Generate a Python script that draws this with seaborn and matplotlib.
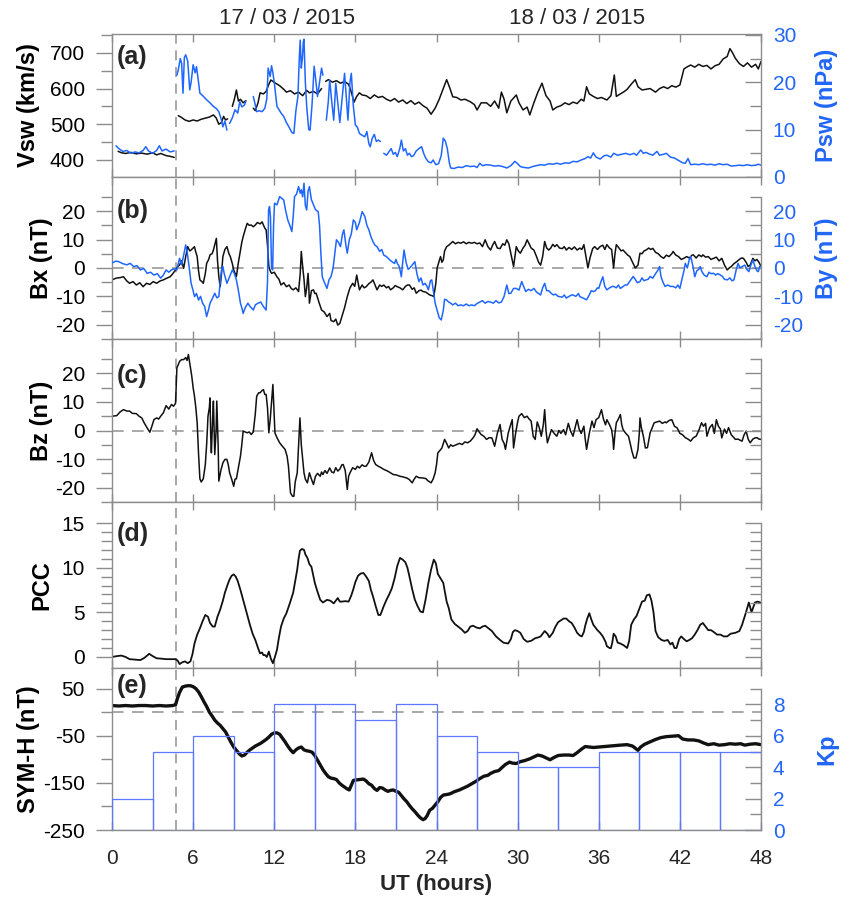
import matplotlib
matplotlib.use("Agg")
import matplotlib.pyplot as plt
import pandas as pd
import seaborn as sns
from matplotlib.ticker import FixedLocator

# ---------------- data (UT hours, value); None marks a data gap ----------------
VSW = [(0.45,424),(0.7,420),(1.0,418),(1.4,421),(1.8,417),(2.2,419),(2.6,416),(3.0,420),(3.3,414),(3.6,418),(4.0,412),(4.3,410),(4.6,407),(4.7,None),
       (4.9,524),(5.1,520),(5.4,512),(5.7,508),(6.0,512),(6.3,509),(6.6,514),(6.9,517),(7.2,520),(7.5,526),(7.7,518),(7.9,500),(8.1,505),(8.25,522),(8.4,512),(8.55,515),(8.7,None),
       (8.9,550),(9.05,570),(9.2,596),(9.35,565),(9.5,570),(9.7,560),(9.9,566),(10.1,None),
       (10.45,545),(10.6,538),(10.8,560),(10.95,588),(11.2,585),(11.4,592),(11.6,612),(11.75,624),(11.9,620),(12.1,615),(12.4,608),(12.7,598),(12.9,590),(13.2,594),(13.5,585),(13.8,590),(14.1,580),(14.4,595),(14.6,588),(14.9,592),(15.2,585),(15.5,600),(15.65,None),
       (15.8,620),(16.0,625),(16.3,618),(16.6,622),(16.9,615),(17.2,620),(17.5,612),(17.7,590),(17.9,562),(18.1,578),(18.3,588),(18.5,582),
       (18.8,580),(19.1,572),(19.4,582),(19.7,575),(20.0,578),(20.3,570),(20.6,565),(20.9,572),(21.2,562),(21.5,568),(21.8,558),(22.1,566),(22.4,556),(22.7,562),(23.0,552),(23.3,545),(23.6,528),(23.9,545),
       (24.2,570),(24.5,600),(24.75,625),(25.0,600),(25.2,577),(25.5,575),(25.8,568),(26.1,570),(26.5,563),(26.8,555),(27.0,540),(27.3,560),(27.7,560),(28.0,550),(28.3,565),(28.6,545),(28.8,590),(29.0,570),(29.2,532),(29.5,565),(29.9,582),
       (30.1,560),(30.4,540),(30.7,548),(30.9,526),(31.2,560),(31.5,590),(31.8,615),(32.1,580),(32.4,565),(32.6,540),(32.9,548),(33.2,552),(33.5,560),(33.8,555),(34.1,562),(34.4,558),(34.7,570),(34.9,565),(35.1,605),(35.3,585),(35.6,578),(35.9,572),
       (36.2,575),(36.6,568),(36.9,580),(37.15,638),(37.3,578),(37.6,585),(37.9,592),(38.1,598),(38.4,612),(38.7,625),(38.9,605),(39.2,596),(39.5,598),(39.8,600),(40.2,590),(40.5,600),(40.8,605),(41.1,600),(41.4,608),(41.7,604),(42.0,610),
       (42.3,655),(42.5,660),(42.8,666),(43.1,660),(43.4,668),(43.7,662),(44.0,665),(44.3,655),(44.6,664),(44.9,668),(45.2,683),(45.5,690),(45.7,712),(45.9,700),(46.1,685),(46.4,670),(46.7,662),(47.0,672),(47.3,660),(47.6,668),(47.8,655),(48.0,676)]

PSW = [(0.3,6.6),(0.5,6.0),(0.8,5.4),(1.1,5.6),(1.4,5.0),(1.7,5.3),(2.0,5.1),(2.3,5.6),(2.5,6.4),(2.7,5.5),(3.0,5.0),(3.3,5.6),(3.5,6.6),(3.7,5.5),(4.0,5.9),(4.3,5.3),(4.6,5.5),(4.7,None),
       (4.8,21.5),(4.9,22.6),(5.05,25.0),(5.15,24.0),(5.25,17.7),(5.35,25.2),(5.45,25.8),(5.6,24.5),(5.75,18.4),(5.85,20.0),(6.0,23.7),(6.15,22.0),(6.25,23.3),(6.4,20.0),(6.5,17.7),(6.7,17.2),(7.0,16.3),(7.2,15.8),(7.5,14.9),(7.7,14.5),(7.9,13.8),(8.1,12.0),(8.2,10.6),(8.35,11.8),(8.5,9.9),(8.6,None),
       (8.7,11.3),(8.9,12.5),(9.1,14.2),(9.3,13.5),(9.45,15.9),(9.6,14.8),(9.8,15.2),(9.9,16.0),(10.1,None),
       (10.45,17.0),(10.55,15.8),(10.7,13.8),(10.9,14.0),(11.1,13.8),(11.3,14.5),(11.45,16.5),(11.55,23.0),(11.7,21.2),(11.8,23.5),(11.9,22.0),(12.0,20.0),(12.2,14.9),(12.4,14.0),(12.5,13.5),(12.7,12.8),(12.9,11.5),(13.1,10.5),(13.3,9.4),(13.45,9.2),
       (13.6,14.0),(13.75,17.0),(13.85,25.0),(13.92,28.9),(14.0,23.0),(14.08,25.0),(14.15,28.5),(14.2,29.1),(14.3,20.0),(14.4,14.9),(14.55,10.0),(14.65,9.9),(14.8,15.5),(14.95,23.4),(15.05,21.0),(15.2,17.0),(15.35,20.0),(15.5,23.0),(15.6,21.5),(15.7,None),
       (15.85,12.0),(16.0,16.0),(16.1,20.5),(16.25,16.0),(16.4,12.0),(16.55,19.8),(16.65,17.0),(16.85,11.5),(17.0,16.0),(17.2,21.9),(17.35,16.0),(17.45,12.0),(17.6,20.0),(17.7,21.9),(17.85,15.0),(18.0,11.0),(18.15,10.5),(18.3,9.2),(18.5,8.8),(18.7,8.5),
       (18.85,9.6),(19.0,7.0),(19.1,6.4),(19.25,8.2),(19.4,9.0),(19.55,7.5),(19.7,7.8),(19.85,7.5),(19.95,None),
       (20.1,5.0),(20.3,4.6),(20.5,5.4),(20.65,6.0),(20.8,4.8),(20.95,5.2),(21.1,4.3),(21.3,6.2),(21.4,7.8),(21.55,5.5),(21.7,6.0),(21.85,4.6),(22.0,5.0),(22.15,4.3),(22.3,4.5),(22.5,5.5),(22.7,6.0),(22.9,6.4),(23.05,5.0),(23.2,4.0),(23.4,3.2),(23.6,3.0),(23.75,3.6),(23.95,2.6),
       (24.15,2.8),(24.35,4.5),(24.5,8.2),(24.65,7.6),(24.8,6.0),(24.95,3.0),(25.05,1.9),(25.3,1.8),(25.6,2.1),(25.9,2.0),(26.2,2.4),(26.5,2.2),(26.8,2.3),(27.0,2.0),(27.2,2.9),(27.4,2.4),(27.7,2.6),(28.0,2.5),(28.3,2.3),(28.6,2.4),(28.9,2.2),(29.2,1.9),(29.5,2.4),(29.8,3.3),
       (30.0,2.8),(30.2,2.2),(30.5,2.0),(30.8,1.9),(31.1,2.2),(31.4,2.4),(31.7,2.6),(32.0,2.5),(32.3,2.8),(32.6,2.7),(32.9,2.9),(33.2,2.7),(33.5,3.0),(33.8,2.9),(34.1,3.3),(34.4,3.2),(34.7,3.6),(35.0,3.9),(35.2,4.3),(35.4,4.0),(35.6,5.1),(35.8,4.2),
       (36.1,3.8),(36.4,4.5),(36.6,4.6),(36.9,4.2),(37.1,5.0),(37.4,4.6),(37.7,4.8),(38.0,5.0),(38.3,4.7),(38.6,5.0),(38.8,4.6),(39.1,5.7),(39.3,5.0),(39.5,5.2),(39.7,4.9),(40.0,4.6),(40.3,5.4),(40.5,4.6),(40.8,4.8),(41.0,5.0),(41.3,4.2),(41.6,4.0),(41.9,3.5),
       (42.2,3.0),(42.4,2.9),(42.6,3.9),(42.8,2.6),(43.1,2.7),(43.4,2.6),(43.7,2.8),(44.0,2.6),(44.3,2.7),(44.6,2.5),(44.9,2.8),(45.2,2.6),(45.5,2.7),(45.8,2.3),(46.1,2.4),(46.4,2.5),(46.7,2.4),(47.0,2.6),(47.3,2.4),(47.6,2.5),(47.8,2.7),(48.0,2.5)]

BX = [(0.0,-4.2),(0.3,-3.6),(0.6,-3.4),(0.85,-3.1),(1.1,-4.6),(1.3,-5.4),(1.55,-4.8),(1.8,-6.0),(2.05,-5.2),(2.3,-6.6),(2.55,-5.4),(2.8,-5.8),(3.05,-4.8),(3.3,-5.4),(3.55,-4.6),(3.8,-4.2),(4.05,-3.6),(4.3,-3.1),(4.5,-2.0),(4.7,-0.7),(4.85,0.4),(5.0,1.1),
      (5.15,2.5),(5.3,-0.1),(5.45,4.0),(5.6,7.5),(5.75,6.0),(5.85,6.3),(6.0,7.0),(6.1,7.5),(6.2,5.5),(6.3,4.0),(6.4,-1.0),(6.5,-4.2),(6.65,-4.8),(6.75,-5.4),(6.9,-2.0),(7.0,1.6),(7.15,3.0),(7.25,4.6),(7.4,5.0),(7.5,6.3),(7.65,9.0),(7.72,10.4),(7.8,2.8),(7.9,-3.0),
      (8.0,-6.6),(8.1,-2.0),(8.2,4.0),(8.35,6.5),(8.5,7.5),(8.65,5.0),(8.75,4.0),(8.9,1.5),(9.0,-0.7),(9.2,-3.0),(9.35,2.0),(9.5,6.3),(9.6,9.0),(9.7,11.0),(9.85,13.5),(10.0,15.7),(10.15,15.0),(10.3,15.1),(10.45,14.5),(10.6,15.1),(10.75,16.0),(10.95,15.5),
      (11.1,16.2),(11.3,14.0),(11.4,13.4),(11.5,8.0),(11.6,0.5),(11.7,-1.0),(11.8,-1.9),(12.0,-1.5),(12.2,-3.1),(12.35,-4.0),(12.5,-6.0),(12.7,-5.2),(12.9,-6.6),(13.1,-6.0),(13.25,-7.2),(13.4,-7.7),(13.6,-7.0),(13.8,-8.3),(13.92,-2.0),(14.0,5.8),(14.1,0.5),
      (14.2,-4.0),(14.3,-10.1),(14.4,-7.0),(14.5,-1.9),(14.55,-6.0),(14.6,-12.4),(14.75,-8.0),(14.9,-7.7),(15.0,-9.0),(15.1,-8.9),(15.3,-12.0),(15.5,-14.8),(15.7,-15.5),(15.9,-17.1),(16.1,-16.0),(16.2,-18.5),(16.4,-18.9),(16.55,-18.0),(16.7,-20.1),
      (16.85,-19.5),(17.0,-17.1),(17.2,-14.0),(17.4,-10.1),(17.6,-7.0),(17.8,-5.4),(17.95,-6.5),(18.1,-2.5),(18.2,-5.0),(18.3,-7.7),(18.5,-6.0),(18.65,-7.0),(18.8,-6.6),(19.0,-5.5),(19.15,-5.0),(19.3,-4.2),(19.45,-6.0),(19.6,-7.7),(19.8,-6.0),(19.95,-6.5),
      (20.1,-6.0),(20.3,-7.0),(20.45,-6.5),(20.6,-7.7),(20.8,-7.0),(20.95,-6.2),(21.1,-6.6),(21.3,-7.0),(21.5,-7.7),(21.7,-6.5),(21.85,-6.0),(22.0,-6.0),(22.2,-7.5),(22.35,-7.0),(22.5,-8.9),(22.7,-8.0),(22.85,-7.8),(23.0,-8.3),(23.2,-8.5),(23.35,-9.0),
      (23.5,-9.5),(23.7,-9.8),(23.8,-10.1),(23.95,-5.4),(24.05,0.0),(24.2,2.5),(24.3,4.0),(24.4,2.0),(24.5,2.8),(24.6,6.0),(24.75,7.5),(24.9,8.0),(25.05,8.6),(25.2,9.3),(25.4,8.5),(25.6,9.0),(25.8,8.7),(26.0,9.2),(26.2,8.5),(26.4,9.0),(26.6,8.7),(26.8,9.0),
      (27.0,8.5),(27.2,8.8),(27.4,7.5),(27.6,9.9),(27.8,7.5),(28.0,6.3),(28.15,8.0),(28.3,9.3),(28.5,7.0),(28.7,6.8),(28.9,8.5),(29.05,8.0),(29.2,9.9),(29.35,8.5),(29.5,5.0),(29.7,0.5),(29.8,4.0),(29.9,7.5),(30.05,6.0),(30.2,5.2),(30.4,7.0),(30.55,8.0),
      (30.7,9.9),(30.85,8.5),(31.0,7.0),(31.2,6.3),(31.4,4.0),(31.55,2.0),(31.7,1.0),(31.85,4.0),(32.0,9.3),(32.15,7.0),(32.3,6.3),(32.45,7.0),(32.6,8.3),(32.75,7.5),(32.9,8.2),(33.1,7.0),(33.3,6.8),(33.45,7.5),(33.6,6.3),(33.8,7.2),(34.0,6.5),(34.2,7.4),
      (34.4,6.3),(34.6,7.0),(34.75,6.5),(34.9,8.2),(35.05,4.0),(35.2,0.0),(35.35,3.5),(35.55,6.8),(35.7,7.5),(35.9,6.5),(36.1,7.5),(36.3,8.0),(36.45,6.5),(36.6,8.2),(36.8,7.0),(36.95,6.5),(37.1,0.0),(37.2,5.0),(37.3,8.2),(37.5,7.0),(37.65,6.0),(37.8,6.3),
      (37.95,5.5),(38.15,4.5),(38.3,4.0),(38.5,2.0),(38.7,0.0),(38.9,1.0),(39.05,5.2),(39.2,5.0),(39.35,6.0),(39.5,6.3),(39.7,7.0),(39.85,6.5),(40.0,6.9),(40.2,5.5),(40.4,5.0),(40.6,4.0),(40.8,3.4),(41.0,4.5),(41.2,4.0),(41.4,5.0),(41.5,5.8),(41.7,4.5),
      (41.9,4.0),(42.1,3.0),(42.3,3.4),(42.5,4.0),(42.7,3.5),(42.9,4.5),(43.0,4.6),(43.2,3.5),(43.4,4.6),(43.6,4.0),(43.7,4.6),(43.9,3.8),(44.1,4.0),(44.3,3.0),(44.5,3.4),(44.7,3.8),(44.9,2.5),(45.1,3.4),(45.3,1.0),(45.5,-0.7),(45.65,0.0),(45.8,0.5),
      (46.0,1.5),(46.2,2.2),(46.4,3.0),(46.55,3.5),(46.7,3.4),(46.9,2.0),(47.05,0.5),(47.2,1.0),(47.4,3.4),(47.55,2.5),(47.7,3.0),(47.85,2.0),(48.0,0.5)]

BY = [(0.0,1.8),(0.3,2.4),(0.5,2.2),(0.8,1.5),(1.1,1.1),(1.35,1.6),(1.6,0.5),(1.85,0.8),(2.1,-0.7),(2.35,-0.2),(2.6,-1.9),(2.85,-1.5),(3.1,-2.5),(3.35,-2.0),(3.6,-3.6),(3.8,-2.5),(4.0,-0.7),(4.2,-1.5),(4.4,-0.7),(4.6,-0.3),(4.8,-0.7),(4.9,1.5),
      (5.0,3.4),(5.15,1.1),(5.3,4.5),(5.45,8.1),(5.55,6.0),(5.7,0.5),(5.85,-5.4),(6.0,-8.0),(6.1,-10.1),(6.25,-9.0),(6.4,-11.3),(6.55,-10.0),(6.7,-12.4),(6.85,-13.5),(7.0,-17.1),(7.15,-14.5),(7.25,-12.4),(7.4,-11.0),(7.6,-8.9),(7.75,-10.5),(7.9,-10.1),
      (8.0,-5.0),(8.1,-0.7),(8.2,0.5),(8.3,-2.0),(8.5,-5.4),(8.7,-3.0),(8.9,-0.7),(9.05,-2.0),(9.2,-4.2),(9.35,-8.0),(9.5,-12.4),(9.6,-14.0),(9.7,-16.0),(9.85,-14.0),(10.05,-12.4),(10.2,-13.5),(10.45,-14.8),(10.6,-13.0),(10.8,-12.4),(11.0,-12.0),
      (11.2,-13.6),(11.4,-14.8),(11.5,-5.0),(11.58,20.4),(11.65,21.6),(11.72,18.0),(11.8,0.0),(11.88,-0.7),(11.95,15.0),(12.02,22.8),(12.2,22.2),(12.4,25.1),(12.55,24.5),(12.7,23.9),(12.85,20.0),(13.0,16.9),(13.15,15.0),(13.3,12.8),(13.4,18.0),
      (13.5,25.1),(13.65,26.0),(13.8,28.6),(13.92,26.3),(14.0,27.5),(14.1,25.0),(14.2,29.8),(14.3,22.0),(14.4,20.4),(14.5,27.0),(14.6,28.6),(14.75,24.0),(14.9,22.2),(15.05,20.5),(15.25,19.8),(15.35,15.0),(15.45,5.0),(15.55,-3.1),(15.7,-5.0),
      (15.9,-7.2),(16.05,-4.2),(16.2,-3.0),(16.35,-0.1),(16.5,6.0),(16.6,9.9),(16.75,9.0),(16.9,7.5),(17.05,12.0),(17.15,13.4),(17.3,8.0),(17.4,5.2),(17.55,9.9),(17.7,12.0),(17.85,16.9),(18.0,16.0),(18.1,13.4),(18.3,16.0),(18.5,19.8),(18.6,19.0),
      (18.7,18.1),(18.85,15.0),(19.0,13.4),(19.15,11.0),(19.3,9.3),(19.45,8.0),(19.6,7.5),(19.8,5.8),(19.95,6.5),(20.1,4.5),(20.3,4.0),(20.5,3.0),(20.7,2.2),(20.9,1.6),(21.0,3.0),(21.1,1.6),(21.25,0.5),(21.4,-3.1),(21.5,2.0),(21.6,6.3),(21.75,2.0),
      (21.9,-0.5),(22.0,-0.1),(22.2,1.0),(22.4,2.2),(22.55,-2.0),(22.7,-4.8),(22.85,-3.5),(23.0,-6.0),(23.15,-5.4),(23.3,-6.5),(23.4,-7.7),(23.55,-4.5),(23.65,-4.2),(23.8,-9.0),(23.9,-12.4),(24.05,-15.0),(24.2,-17.5),(24.35,-18.3),(24.5,-15.0),
      (24.6,-11.0),(24.75,-11.3),(24.9,-12.0),(25.05,-12.4),(25.2,-13.0),(25.4,-12.4),(25.6,-13.3),(25.8,-13.0),(26.0,-13.3),(26.2,-12.7),(26.4,-13.3),(26.6,-13.0),(26.8,-13.3),(27.0,-12.5),(27.2,-12.0),(27.4,-11.5),(27.6,-12.4),(27.8,-11.8),
      (28.0,-12.0),(28.2,-12.4),(28.4,-11.5),(28.6,-12.3),(28.8,-12.0),(29.0,-10.0),(29.2,-6.0),(29.35,-9.0),(29.5,-8.9),(29.7,-7.2),(29.9,-7.2),(30.1,-7.8),(30.3,-4.8),(30.45,-6.5),(30.6,-8.3),(30.8,-7.5),(31.0,-8.0),(31.2,-7.2),(31.4,-8.5),
      (31.55,-9.0),(31.7,-9.5),(31.85,-7.0),(32.0,-5.4),(32.15,-8.0),(32.3,-8.0),(32.5,-9.0),(32.65,-9.5),(32.8,-9.2),(33.0,-10.0),(33.1,-10.1),(33.3,-10.3),(33.45,-9.5),(33.6,-10.6),(33.8,-10.0),(34.0,-9.5),(34.1,-9.5),(34.3,-10.0),(34.5,-9.0),
      (34.6,-10.1),(34.8,-10.5),(35.0,-11.0),(35.1,-11.2),(35.3,-9.5),(35.45,-8.0),(35.6,-8.3),(35.75,-8.0),(35.9,-7.0),(36.0,-7.2),(36.15,-5.0),(36.3,-3.1),(36.45,-6.5),(36.6,-7.7),(36.8,-7.0),(37.0,-6.5),(37.1,-6.5),(37.3,-7.0),(37.45,-6.0),
      (37.6,-7.2),(37.8,-6.5),(37.95,-6.0),(38.1,-6.0),(38.25,-5.0),(38.4,-4.0),(38.55,-3.0),(38.7,-4.0),(38.85,-5.2),(39.05,-4.8),(39.2,-3.5),(39.35,-4.5),(39.5,-4.2),(39.65,-4.0),(39.8,-3.0),(40.0,-3.6),(40.2,-2.0),(40.35,-1.0),(40.5,0.5),
      (40.6,-3.0),(40.75,-5.0),(40.9,-6.5),(41.1,-6.0),(41.3,-6.5),(41.5,-6.5),(41.7,-7.0),(41.85,-6.0),(42.0,-7.2),(42.15,-4.0),(42.3,-1.0),(42.4,1.6),(42.55,0.0),(42.7,3.0),(42.8,4.0),(42.95,1.0),(43.1,-3.1),(43.25,-1.0),(43.4,-0.5),(43.5,0.5),
      (43.65,-1.5),(43.8,-2.5),(44.0,-3.1),(44.15,-1.5),(44.3,-2.0),(44.5,-1.9),(44.65,-2.5),(44.8,-2.0),(45.0,-2.5),(45.15,-3.0),(45.3,-4.0),(45.5,-4.2),(45.7,-3.5),(45.85,-4.5),(46.0,-4.2),(46.15,-1.0),(46.3,1.6),(46.45,0.0),(46.6,0.5),
      (46.8,1.0),(46.95,-0.5),(47.1,-1.3),(47.25,1.0),(47.4,2.8),(47.55,0.5),(47.7,-1.0),(47.8,-1.3),(47.9,0.5),(48.0,0.5)]

BZ = [(0.0,5.0),(0.35,5.2),(0.6,6.5),(0.85,7.3),(1.1,6.8),(1.3,6.8),(1.5,6.0),(1.8,5.9),(2.0,5.0),(2.2,4.4),(2.4,2.5),(2.6,0.9),(2.8,-0.6),(2.95,1.5),(3.1,3.8),(3.3,4.4),(3.45,4.0),(3.6,5.0),(3.8,6.2),(4.0,8.7),(4.2,7.5),(4.4,9.1),(4.55,8.5),
      (4.7,9.5),(4.8,21.9),(4.9,23.0),(5.0,24.2),(5.15,24.8),(5.3,24.8),(5.45,25.5),(5.55,24.5),(5.65,26.6),(5.8,22.0),(5.9,19.0),(6.0,15.0),(6.1,12.0),(6.2,8.0),(6.3,2.7),(6.4,-8.0),(6.5,-16.9),(6.6,-18.0),(6.75,-16.9),(6.9,-12.0),(7.0,-4.9),
      (7.1,5.0),(7.2,8.0),(7.25,11.4),(7.3,-2.0),(7.35,-7.8),(7.45,5.0),(7.5,10.3),(7.6,-8.4),(7.7,0.0),(7.75,10.3),(7.85,-5.0),(7.9,-17.7),(8.05,-14.0),(8.2,-11.3),(8.35,-10.1),(8.5,-10.1),(8.6,-12.0),(8.7,-14.8),(8.85,-17.0),(9.0,-19.5),
      (9.1,-17.0),(9.2,-16.9),(9.35,-13.0),(9.5,-9.0),(9.6,-5.0),(9.7,-0.2),(9.85,-0.5),(10.0,-0.8),(10.15,-0.5),(10.3,-1.4),(10.45,-0.5),(10.6,5.9),(10.7,12.0),(10.85,13.2),(10.95,13.2),(11.1,14.0),(11.2,14.3),(11.3,12.6),(11.4,12.6),(11.5,8.0),
      (11.6,-0.8),(11.7,3.8),(11.8,10.0),(11.9,16.1),(11.97,8.0),(12.05,-0.8),(12.2,-2.5),(12.4,-4.3),(12.6,-5.5),(12.8,-6.6),(12.95,-9.0),(13.05,-12.5),(13.2,-21.8),(13.35,-23.0),(13.45,-23.0),(13.55,-18.0),(13.7,-14.8),(13.8,-5.0),(13.9,4.4),
      (14.0,-5.0),(14.2,-14.8),(14.3,-17.0),(14.45,-18.3),(14.6,-14.8),(14.75,-17.0),(14.9,-18.9),(15.05,-16.0),(15.2,-15.0),(15.4,-16.0),(15.5,-14.5),(15.6,-15.4),(15.75,-14.0),(15.9,-15.0),(16.1,-13.1),(16.25,-14.5),(16.4,-14.8),(16.55,-13.0),
      (16.7,-14.2),(16.85,-13.5),(17.0,-12.0),(17.1,-11.9),(17.25,-14.0),(17.4,-20.6),(17.5,-16.0),(17.6,-14.8),(17.8,-13.0),(18.0,-13.6),(18.15,-12.5),(18.3,-13.1),(18.5,-12.0),(18.65,-12.5),(18.8,-12.5),(19.0,-11.0),(19.2,-7.8),(19.35,-10.5),
      (19.5,-11.9),(19.7,-12.5),(19.9,-13.0),(20.1,-13.6),(20.3,-14.0),(20.5,-14.5),(20.8,-15.4),(21.0,-15.5),(21.3,-16.0),(21.5,-16.2),(21.8,-16.6),(22.0,-17.2),(22.2,-18.3),(22.35,-17.0),(22.5,-16.0),(22.7,-16.5),(23.0,-16.6),(23.2,-16.8),
      (23.35,-17.5),(23.6,-18.3),(23.75,-17.0),(23.9,-14.8),(24.0,-12.0),(24.1,-7.8),(24.25,-7.0),(24.4,-6.1),(24.6,-3.1),(24.75,-4.5),(24.9,-6.1),(25.05,-5.0),(25.2,-5.5),(25.45,-5.0),(25.7,-4.5),(25.9,-4.9),(26.1,-4.0),(26.3,-4.3),(26.5,-3.7),
      (26.7,-2.6),(26.85,-1.5),(27.0,0.6),(27.15,-0.5),(27.3,-1.4),(27.5,-2.0),(27.7,-3.1),(27.9,-2.5),(28.1,-2.6),(28.2,-4.0),(28.3,-5.5),(28.5,-1.0),(28.7,2.1),(28.85,-3.1),(29.0,-4.5),(29.1,-6.6),(29.3,-1.0),(29.45,1.5),(29.6,3.8),(29.7,-6.1),
      (29.85,-1.0),(30.0,3.0),(30.1,5.0),(30.3,5.9),(30.5,4.5),(30.7,5.0),(30.85,4.0),(31.0,3.3),(31.15,-2.0),(31.3,-3.1),(31.45,3.0),(31.6,1.0),(31.75,-2.0),(31.9,2.0),(32.0,7.3),(32.1,0.0),(32.2,-4.3),(32.35,-2.0),(32.5,0.3),(32.7,-1.0),
      (32.9,-2.0),(33.05,0.0),(33.2,-1.0),(33.4,0.3),(33.55,-1.5),(33.75,2.5),(33.9,0.0),(34.1,-2.0),(34.25,1.0),(34.4,3.8),(34.55,0.5),(34.7,-1.0),(34.9,1.5),(35.0,-3.0),(35.1,-6.6),(35.3,-1.0),(35.5,3.3),(35.65,1.0),(35.8,3.8),(36.0,4.5),
      (36.2,7.3),(36.35,4.0),(36.5,2.0),(36.6,3.8),(36.8,2.0),(36.95,0.3),(37.05,-3.0),(37.1,-6.6),(37.2,-1.0),(37.3,2.7),(37.45,4.0),(37.6,5.6),(37.7,2.0),(37.8,0.3),(38.0,-1.0),(38.2,-2.0),(38.35,-5.0),(38.45,-7.2),(38.6,-9.6),(38.75,-9.6),
      (38.9,-6.6),(39.0,-1.0),(39.05,4.4),(39.15,1.0),(39.3,-2.0),(39.45,-6.1),(39.6,-6.0),(39.8,-0.8),(39.95,1.0),(40.1,2.7),(40.3,3.0),(40.5,3.3),(40.7,2.5),(40.9,3.0),(41.0,2.7),(41.2,3.5),(41.4,3.8),(41.6,1.5),(41.8,0.9),(42.0,-1.0),
      (42.2,-1.5),(42.4,-2.5),(42.6,-3.0),(42.8,-3.7),(43.0,-2.5),(43.2,-2.0),(43.4,0.0),(43.6,2.7),(43.75,1.5),(43.9,2.5),(44.0,-2.0),(44.2,1.0),(44.4,2.1),(44.55,-1.0),(44.7,3.8),(44.85,1.5),(45.0,0.5),(45.1,-2.6),(45.3,0.5),(45.45,-1.0),
      (45.6,1.0),(45.8,-1.5),(46.0,-2.5),(46.1,-3.1),(46.3,-3.0),(46.5,-3.5),(46.6,-3.7),(46.75,-1.5),(46.9,-0.2),(47.05,-3.0),(47.2,-4.3),(47.4,-3.0),(47.55,-2.6),(47.7,-2.5),(47.85,-3.0),(48.0,-3.1)]

PCC = [(0.0,0.0),(0.4,0.1),(0.7,0.15),(1.0,0.0),(1.3,-0.25),(1.7,-0.3),(2.1,-0.35),(2.4,-0.1),(2.75,0.35),(3.0,0.1),(3.3,-0.15),(3.7,-0.2),(4.0,-0.25),(4.35,-0.25),(4.7,-0.25),(4.85,-0.4),(5.0,-0.8),(5.2,-0.6),(5.4,-0.5),(5.6,-0.7),(5.8,-0.5),
       (5.95,0.3),(6.1,1.5),(6.3,2.5),(6.5,3.2),(6.7,4.0),(6.9,4.7),(7.1,4.5),(7.25,3.8),(7.45,3.4),(7.6,3.4),(7.8,4.5),(8.0,5.3),(8.2,6.3),(8.35,7.2),(8.55,8.1),(8.7,8.7),(8.85,9.1),(9.0,9.25),(9.15,9.0),(9.3,8.5),(9.5,7.5),(9.7,6.4),(9.95,5.0),
       (10.2,3.6),(10.4,2.6),(10.6,1.9),(10.8,1.0),(10.95,0.4),(11.1,0.5),(11.2,0.2),(11.3,0.23),(11.45,0.0),(11.6,0.6),(11.75,-0.2),(11.9,-0.7),(12.05,0.0),(12.2,0.8),(12.35,2.2),(12.5,3.4),(12.7,4.3),(12.9,4.9),(13.15,6.0),(13.4,7.2),(13.55,8.5),
       (13.7,9.8),(13.8,11.0),(13.9,11.9),(14.05,12.1),(14.2,12.0),(14.3,11.5),(14.45,11.1),(14.6,10.4),(14.75,10.1),(15.0,8.3),(15.2,7.3),(15.4,6.4),(15.6,6.1),(15.9,6.4),(16.15,6.3),(16.4,6.0),(16.55,6.3),(16.7,6.6),(16.85,6.2),(17.0,6.2),
       (17.25,6.25),(17.5,6.2),(17.7,6.9),(17.85,7.6),(18.0,8.4),(18.2,9.1),(18.4,9.35),(18.6,9.4),(18.8,9.0),(19.0,8.5),(19.15,7.5),(19.3,6.8),(19.5,5.7),(19.7,4.7),(19.85,4.7),(20.1,5.7),(20.3,6.4),(20.5,7.0),(20.7,7.7),(20.9,8.8),(21.1,10.2),
       (21.3,11.1),(21.5,10.9),(21.7,10.6),(21.85,10.0),(22.0,9.0),(22.2,7.6),(22.4,6.4),(22.6,5.7),(22.8,5.1),(23.0,5.0),(23.2,6.5),(23.4,8.3),(23.6,9.8),(23.8,10.9),(23.95,10.5),(24.1,9.3),(24.3,8.8),(24.5,8.3),(24.75,6.2),(24.9,5.5),(25.1,4.2),
       (25.35,3.7),(25.6,3.4),(25.85,3.1),(26.1,2.7),(26.3,2.9),(26.5,3.4),(26.7,3.5),(26.95,3.3),(27.2,3.2),(27.4,3.4),(27.6,3.5),(27.85,3.2),(28.1,2.9),(28.4,2.3),(28.7,1.9),(28.95,1.6),(29.3,1.5),(29.5,2.0),(29.65,2.8),(29.8,3.0),(30.0,2.9),
       (30.2,2.7),(30.45,2.0),(30.7,1.7),(31.0,1.8),(31.3,2.1),(31.55,2.2),(31.7,2.3),(31.85,2.6),(32.0,2.9),(32.2,2.6),(32.35,2.2),(32.6,2.7),(32.8,3.4),(33.0,3.9),(33.2,4.1),(33.4,4.3),(33.6,4.3),(33.8,4.0),(34.0,3.8),(34.2,3.3),(34.4,2.7),
       (34.6,2.4),(34.75,2.3),(34.9,2.8),(35.0,3.5),(35.15,4.3),(35.3,4.9),(35.45,4.2),(35.6,3.6),(35.75,3.3),(35.9,3.0),(36.1,2.7),(36.3,2.3),(36.5,1.7),(36.6,1.2),(36.8,1.0),(36.9,0.98),(37.0,1.6),(37.1,2.6),(37.25,2.3),(37.4,1.6),(37.6,1.5),
       (37.85,1.3),(38.1,1.0),(38.25,1.8),(38.4,3.6),(38.6,4.2),(38.8,4.6),(39.0,5.4),(39.2,6.2),(39.4,6.3),(39.55,6.9),(39.75,7.0),(39.9,6.3),(40.05,5.0),(40.2,2.9),(40.4,2.2),(40.65,1.9),(40.85,1.8),(41.1,1.9),(41.3,1.4),(41.45,1.6),(41.6,1.0),
       (41.75,1.0),(41.95,2.0),(42.1,2.3),(42.3,2.0),(42.5,1.75),(42.7,1.9),(42.9,2.1),(43.1,2.5),(43.3,3.0),(43.5,3.6),(43.7,3.8),(43.9,3.4),(44.1,3.0),(44.3,3.0),(44.5,2.8),(44.75,2.5),(45.0,2.5),(45.25,2.3),(45.5,2.3),(45.75,2.6),(46.1,2.7),
       (46.4,2.9),(46.6,3.6),(46.85,4.8),(47.1,6.1),(47.3,5.0),(47.55,6.1),(47.75,6.2),(47.95,6.1)]

SYMH = [(0.0,14),(0.5,13),(1.0,14),(1.5,13),(2.0,14),(2.5,14),(3.0,13),(3.5,14),(4.0,13),(4.5,14),(4.7,16),(4.85,30),(5.0,42),(5.2,53),(5.4,55),(5.6,56),(5.8,56),(6.0,54),(6.2,50),(6.4,43),(6.6,33),(6.8,22),(7.0,12),(7.2,0),(7.4,-8),(7.6,-17),
        (7.8,-23),(8.0,-28),(8.2,-35),(8.4,-42),(8.6,-53),(8.8,-64),(9.0,-74),(9.2,-81),(9.4,-88),(9.6,-93),(9.8,-91),(10.0,-85),(10.2,-80),(10.4,-76),(10.6,-72),(10.8,-69),(11.0,-66),(11.2,-62),(11.4,-58),(11.6,-53),(11.8,-47),(12.0,-44),
        (12.2,-44),(12.4,-47),(12.6,-55),(12.8,-63),(13.0,-72),(13.2,-80),(13.4,-86),(13.6,-80),(13.8,-76),(14.0,-74),(14.2,-80),(14.4,-82),(14.6,-83),(14.8,-85),(15.0,-92),(15.2,-102),(15.4,-112),(15.6,-122),(15.8,-130),(16.0,-137),(16.2,-140),
        (16.4,-141),(16.6,-143),(16.8,-150),(17.0,-155),(17.2,-159),(17.4,-163),(17.55,-165),(17.7,-155),(17.85,-145),(18.0,-144),(18.3,-143),(18.6,-142),(18.8,-146),(19.0,-152),(19.2,-155),(19.4,-162),(19.6,-166),(19.8,-160),(20.0,-161),
        (20.2,-165),(20.4,-168),(20.6,-166),(20.8,-165),(21.0,-168),(21.2,-170),(21.4,-177),(21.6,-184),(21.8,-190),(22.0,-198),(22.2,-205),(22.4,-211),(22.6,-218),(22.8,-224),(23.0,-228),(23.15,-226),(23.3,-220),(23.5,-208),(23.7,-204),
        (23.9,-197),(24.1,-190),(24.3,-181),(24.5,-176),(24.7,-175),(24.9,-174),(25.1,-172),(25.3,-169),(25.5,-167),(25.7,-165),(26.0,-161),(26.3,-157),(26.6,-152),(26.9,-147),(27.2,-141),(27.5,-136),(27.8,-134),(28.0,-130),(28.3,-126),
        (28.6,-124),(28.9,-116),(29.1,-111),(29.4,-106),(29.6,-108),(29.9,-109),(30.2,-105),(30.5,-103),(30.9,-99),(31.2,-95),(31.5,-91),(31.8,-93),(32.1,-97),(32.4,-101),(32.7,-96),(33.0,-92),(33.4,-91),(33.8,-91),(34.1,-92),(34.4,-86),
        (34.7,-79),(35.0,-73),(35.3,-74),(35.6,-75),(36.0,-74),(36.4,-73),(36.8,-72),(37.2,-71),(37.6,-70),(38.1,-69),(38.5,-72),(38.9,-81),(39.1,-74),(39.4,-68),(39.8,-63),(40.2,-58),(40.6,-54),(41.0,-52),(41.5,-51),(41.9,-50),(42.2,-57),
        (42.6,-59),(43.0,-59),(43.4,-61),(43.8,-66),(44.1,-69),(44.5,-67),(44.9,-70),(45.3,-69),(45.7,-67),(46.1,-68),(46.5,-67),(46.8,-70),(47.2,-68),(47.6,-67),(48.0,-69)]

KP_START = [0, 3, 6, 9, 12, 15, 18, 21, 24, 27, 30, 33, 36, 39, 42, 45]
KP = [2, 5, 6, 5, 8, 8, 7, 8, 6, 5, 4, 4, 5, 5, 5, 5]

X_TICKS = [0, 6, 12, 18, 24, 30, 36, 42, 48]
SSC_TIME = 4.7
DATES = ["17 / 03 / 2015", "18 / 03 / 2015"]

# ---------------- styling ----------------
sns.set_theme(style="white")
plt.rcParams['font.family'] = ['Liberation Sans', 'DejaVu Sans']
plt.rcParams['axes.unicode_minus'] = False

BLACK = "#111111"
BLUE = "#1f66ff"
BLUE_TXT = "#2266f5"
KP_BLUE = "#5d77ff"
GRAY = "#8c8c8c"
DASH = "#9a9a9a"
TICK_FS = 15
LAB_FS = 17

W, H = 847, 900
XL, XR = 112, 761

fig = plt.figure(figsize=(W / 100, H / 100), dpi=100)


def new_axes(top, bottom):
    return fig.add_axes([XL / W, 1 - bottom / H, (XR - XL) / W, (bottom - top) / H])


def segments(pairs):
    seg = []
    for t, v in pairs:
        if v is None:
            if seg:
                yield seg
            seg = []
        else:
            seg.append((t, v))
    if seg:
        yield seg


def draw(ax, pairs, color, lw):
    for seg in segments(pairs):
        df = pd.DataFrame(seg, columns=["t", "v"])
        sns.lineplot(data=df, x="t", y="v", ax=ax, color=color, linewidth=lw,
                     estimator=None, sort=False, legend=False)
    ax.set_xlabel("")
    ax.set_ylabel("")


def style_main(ax, ylim, major, minor):
    ax.set_xlim(0, 48)
    ax.set_ylim(*ylim)
    ax.set_xticks(X_TICKS)
    ax.tick_params(axis='x', which='major', direction='in', top=True, bottom=True,
                   length=6, width=1, color=GRAY, labelbottom=False, labelsize=TICK_FS, pad=14)
    ax.yaxis.set_major_locator(FixedLocator(major))
    ax.yaxis.set_minor_locator(FixedLocator(minor))
    ax.tick_params(axis='y', which='major', direction='out', left=True, right=False,
                   length=11.5, width=1, color=GRAY, labelsize=TICK_FS, pad=8, labelcolor='black')
    ax.tick_params(axis='y', which='minor', direction='out', left=True, right=False,
                   length=8, width=1, color=GRAY)
    for s in ax.spines.values():
        s.set_visible(True)
        s.set_color(GRAY)
        s.set_linewidth(1)
    ax.spines['right'].set_visible(False)
    ax.axvline(SSC_TIME, color=DASH, lw=1.2, ls=(0, (6, 4)), zorder=1)


def style_twin(tw, ylim, major, minor, bounds, labels):
    tw.set_ylim(*ylim)
    tw.yaxis.set_major_locator(FixedLocator(major))
    tw.yaxis.set_minor_locator(FixedLocator(minor))
    tw.tick_params(axis='y', which='major', direction='in', right=True, left=False,
                   length=11.5, width=1, color=GRAY, labelsize=TICK_FS, pad=8.5,
                   labelcolor=BLUE_TXT, labelright=labels)
    tw.tick_params(axis='y', which='minor', direction='in', right=True, left=False,
                   length=8, width=1, color=GRAY)
    for k in ['left', 'top', 'bottom']:
        tw.spines[k].set_visible(False)
    tw.spines['right'].set_visible(True)
    tw.spines['right'].set_color(GRAY)
    tw.spines['right'].set_linewidth(1)
    if bounds is not None:
        tw.spines['right'].set_bounds(*bounds)


def left_label(ax, text, xpix):
    ax.set_ylabel(text, fontsize=LAB_FS, fontweight='bold', color='black')
    ax.yaxis.set_label_coords((xpix - XL) / (XR - XL), 0.5)


def right_label(tw, text):
    tw.set_ylabel(text, fontsize=LAB_FS, fontweight='bold', color=BLUE_TXT)
    tw.yaxis.set_label_coords((815 - XL) / (XR - XL), 0.5)


def panel_tag(ax, tag, top, bottom, ypix):
    ax.text(0.008, (bottom - ypix) / (bottom - top), tag, transform=ax.transAxes,
            fontsize=18, fontweight='bold', ha='left', va='center', zorder=10)


# ---- (a) Vsw / Psw ----
PA = (34, 177)
axa = new_axes(*PA)
draw(axa, VSW, BLACK, 1.1)
style_main(axa, (352, 753), [400, 500, 600, 700], [350, 450, 550, 650, 750])
twa = axa.twinx()
draw(twa, PSW, BLUE, 1.1)
style_twin(twa, (0, 30.2), [0, 10, 20, 30], [5, 15, 25], None, True)
left_label(axa, "Vsw (km/s)", 40)
right_label(twa, "Psw (nPa)")
panel_tag(axa, "(a)", *PA, 57)

# ---- (b) Bx / By ----
PB = (177, 339)
axb = new_axes(*PB)
axb.axhline(0, color=DASH, lw=1.2, ls=(0, (7, 5)), zorder=1)
draw(axb, BX, BLACK, 1.1)
style_main(axb, (-25, 32), [-20, -10, 0, 10, 20], [-25, -15, -5, 5, 15, 25])
twb = axb.twinx()
draw(twb, BY, BLUE, 1.1)
style_twin(twb, (-25, 32), [-20, -10, 0, 10, 20], [-25, -15, -5, 5, 15, 25], (-25, 25), True)
left_label(axb, "Bx (nT)", 53)
right_label(twb, "By (nT)")
panel_tag(axb, "(b)", *PB, 211)

# ---- (c) Bz ----
PC = (339, 502)
axc = new_axes(*PC)
axc.axhline(0, color=DASH, lw=1.2, ls=(0, (7, 5)), zorder=1)
draw(axc, BZ, BLACK, 1.1)
style_main(axc, (-25, 32), [-20, -10, 0, 10, 20], [-25, -15, -5, 5, 15, 25])
twc = axc.twinx()
style_twin(twc, (-25, 32), [-20, -10, 0, 10, 20], [-25, -15, -5, 5, 15, 25], (-25, 25), False)
left_label(axc, "Bz (nT)", 53)
panel_tag(axc, "(c)", *PC, 376)

# ---- (d) PCC ----
PD = (502, 668)
axd = new_axes(*PD)
draw(axd, PCC, BLACK, 1.3)
d_minor = [v for v in range(0, 16) if v % 5 != 0]
style_main(axd, (-1.24, 17.36), [0, 5, 10, 15], d_minor)
twd = axd.twinx()
style_twin(twd, (-1.24, 17.36), [0, 5, 10, 15], d_minor, (-1.24, 15), False)
left_label(axd, "PCC", 53)
panel_tag(axd, "(d)", *PD, 534)

# ---- (e) SYM-H / Kp ----
PE = (668, 830)
axe = new_axes(*PE)
axe.axhline(0, color=DASH, lw=1.2, ls=(0, (7, 5)), zorder=1)
draw(axe, SYMH, BLACK, 2.4)
style_main(axe, (-250, 93.6), [50, -50, -150, -250], [0, -100, -200])
twe = axe.twinx()
twe.bar(KP_START, KP, width=3, align='edge', fill=False, edgecolor=KP_BLUE, linewidth=0.9)
style_twin(twe, (0, 10.32), [0, 2, 4, 6, 8], [1, 3, 5, 7, 9], (0, 9), True)
left_label(axe, "SYM-H (nT)", 40)
right_label(twe, "Kp")
panel_tag(axe, "(e)", *PE, 686)

axe.tick_params(axis='x', labelbottom=True)
axe.set_xticklabels([str(v) for v in X_TICKS])
axe.set_xlabel("UT (hours)", fontsize=16, fontweight='bold', labelpad=4)

fig.text(287 / W, 1 - 18 / H, DATES[0], ha='center', va='center', fontsize=16)
fig.text(577 / W, 1 - 18 / H, DATES[1], ha='center', va='center', fontsize=16)

fig.savefig("out.png", dpi=100)
